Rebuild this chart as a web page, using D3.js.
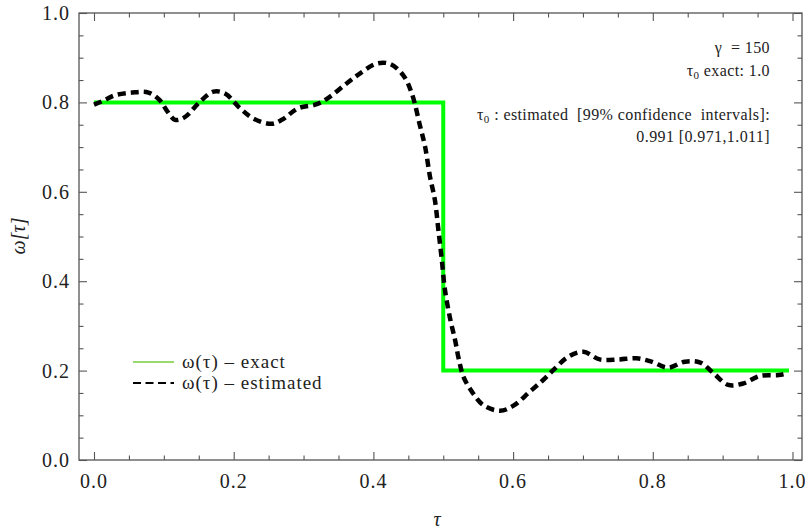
<!DOCTYPE html>
<html>
<head>
<meta charset="utf-8">
<script src="https://cdn.jsdelivr.net/npm/d3@7/dist/d3.min.js"></script>
<style>
  html, body { margin: 0; padding: 0; background: #fff; }
  svg { display: block; }
</style>
</head>
<body>
<svg id="chart" width="805" height="532" font-family="'Liberation Serif', 'DejaVu Serif', serif"></svg>
<script>
// ---- data ----
const exactTau   = [0, 0.5, 0.5, 0.995];
const exactOmega = [0.8, 0.8, 0.2, 0.2];

const estTau = [0, 0.015, 0.030, 0.054, 0.078, 0.094, 0.105, 0.116, 0.130, 0.152,
  0.171, 0.1875, 0.209, 0.228, 0.254, 0.269, 0.2925, 0.319, 0.338, 0.362,
  0.381, 0.405, 0.424, 0.443, 0.455, 0.467, 0.474, 0.481, 0.488, 0.493,
  0.498, 0.5025, 0.510, 0.517, 0.522, 0.529, 0.541, 0.557, 0.581, 0.600,
  0.624, 0.643, 0.660, 0.679, 0.7005, 0.724, 0.751, 0.777, 0.798, 0.822,
  0.846, 0.868, 0.887, 0.908, 0.930, 0.953, 0.980, 0.993];
const estOmega = [0.795, 0.805, 0.816, 0.822, 0.822, 0.805, 0.780, 0.761, 0.767, 0.802,
  0.824, 0.820, 0.787, 0.764, 0.752, 0.761, 0.787, 0.796, 0.813, 0.843,
  0.865, 0.887, 0.886, 0.860, 0.820, 0.746, 0.701, 0.634, 0.582, 0.515,
  0.447, 0.380, 0.315, 0.268, 0.2275, 0.186, 0.153, 0.123, 0.110, 0.121,
  0.153, 0.179, 0.205, 0.231, 0.242, 0.225, 0.225, 0.2275, 0.220, 0.2065,
  0.220, 0.218, 0.194, 0.168, 0.1715, 0.188, 0.190, 0.194];

const xTickLabels = ["0.0", "0.2", "0.4", "0.6", "0.8", "1.0"];
const yTickLabels = ["0.0", "0.2", "0.4", "0.6", "0.8", "1.0"];
const legendLabels = ["ω(τ) – exact", "ω(τ) – estimated"];

// ---- layout ----
const FONT = "'Liberation Serif', 'DejaVu Serif', serif";
const svg = d3.select("#chart");
const frame = { left: 79, right: 802, top: 13, bottom: 460 };
const x = d3.scaleLinear().domain([0, 1]).range([94, 792.5]);
const y = d3.scaleLinear().domain([0, 1]).range([460, 13]);
const axisColor = "#555";
const labelColor = "#222";

// frame
svg.append("rect")
  .attr("x", frame.left).attr("y", frame.top)
  .attr("width", frame.right - frame.left).attr("height", frame.bottom - frame.top)
  .attr("fill", "none").attr("stroke", axisColor).attr("stroke-width", 1.3);

const major = d3.range(0, 1.0001, 0.2);
const minor = d3.range(0, 1.0001, 0.05).filter(v => Math.abs(v * 5 - Math.round(v * 5)) > 1e-6);

function tickAxis(axisGen, transform, values, size) {
  const g = svg.append("g").attr("transform", transform)
    .call(axisGen.tickValues(values).tickSize(size).tickFormat(""));
  g.select(".domain").remove();
  g.selectAll(".tick line").attr("stroke", axisColor).attr("stroke-width", 1.1);
  return g;
}
tickAxis(d3.axisTop(x), `translate(0,${frame.bottom})`, major, 8);
tickAxis(d3.axisTop(x), `translate(0,${frame.bottom})`, minor, 4.5);
tickAxis(d3.axisBottom(x), `translate(0,${frame.top})`, major, 8);
tickAxis(d3.axisBottom(x), `translate(0,${frame.top})`, minor, 4.5);
tickAxis(d3.axisRight(y), `translate(${frame.left},0)`, major, 8);
tickAxis(d3.axisRight(y), `translate(${frame.left},0)`, minor, 4.5);
tickAxis(d3.axisLeft(y), `translate(${frame.right},0)`, major, 8);
tickAxis(d3.axisLeft(y), `translate(${frame.right},0)`, minor, 4.5);

// tick labels
svg.append("g").selectAll("text").data(major).join("text")
  .attr("font-family", FONT)
  .attr("x", d => x(d)).attr("y", 488).attr("letter-spacing", 1)
  .attr("text-anchor", "middle").attr("font-size", 20).attr("fill", labelColor)
  .text((d, i) => xTickLabels[i]);
svg.append("g").selectAll("text").data(major).join("text")
  .attr("font-family", FONT)
  .attr("x", 70).attr("y", d => y(d)).attr("dy", "0.35em").attr("letter-spacing", 1)
  .attr("text-anchor", "end").attr("font-size", 20).attr("fill", labelColor)
  .text((d, i) => yTickLabels[i]);

// axis titles
svg.append("text").attr("x", 437).attr("y", 526).attr("font-family", FONT)
  .attr("text-anchor", "middle").attr("font-size", 20).attr("font-style", "italic")
  .attr("fill", labelColor).text("τ");
svg.append("text").attr("transform", "translate(25,236) rotate(-90)").attr("font-family", FONT)
  .attr("text-anchor", "middle").attr("font-size", 20).attr("font-style", "italic")
  .attr("fill", labelColor).text("ω[τ]");

// clip
svg.append("clipPath").attr("id", "clip").append("rect")
  .attr("x", frame.left).attr("y", frame.top)
  .attr("width", frame.right - frame.left).attr("height", frame.bottom - frame.top);
const plot = svg.append("g").attr("clip-path", "url(#clip)");

// exact
const exactData = exactTau.map((t, i) => [t, exactOmega[i]]);
plot.append("path").datum(exactData)
  .attr("d", d3.line().x(d => x(d[0])).y(d => y(d[1])))
  .attr("fill", "none").attr("stroke", "#00ff00").attr("stroke-width", 4);

// estimated
const estData = estTau.map((t, i) => [t, estOmega[i]]);
plot.append("path").datum(estData)
  .attr("d", d3.line().curve(d3.curveCatmullRom.alpha(0.5)).x(d => x(d[0])).y(d => y(d[1])))
  .attr("fill", "none").attr("stroke", "#000").attr("stroke-width", 4.5)
  .attr("stroke-dasharray", "8,5");

// legend
const legend = svg.append("g");
const legY = [362, 383];
legend.append("line").attr("x1", 133).attr("x2", 174).attr("y1", legY[0]).attr("y2", legY[0])
  .attr("stroke", "#99d96e").attr("stroke-width", 2.2);
legend.append("line").attr("x1", 133).attr("x2", 174).attr("y1", legY[1]).attr("y2", legY[1])
  .attr("stroke", "#000").attr("stroke-width", 2.2).attr("stroke-dasharray", "8,4.5");
legend.selectAll("text").data(legendLabels).join("text")
  .attr("font-family", FONT).attr("letter-spacing", 1)
  .attr("x", 182).attr("y", (d, i) => legY[i]).attr("dy", "0.33em")
  .attr("font-size", 19).attr("fill", labelColor).text(d => d);

// annotations
const ann = svg.append("g").attr("font-family", FONT).attr("font-size", 16)
  .attr("letter-spacing", 0.4).attr("fill", labelColor).attr("text-anchor", "end");
ann.append("text").attr("x", 770).attr("y", 53).attr("xml:space", "preserve").text("γ  = 150");
const t2 = ann.append("text").attr("x", 770).attr("y", 76);
t2.append("tspan").text("τ");
t2.append("tspan").attr("font-size", 11).attr("dy", 3).text("0");
t2.append("tspan").attr("dy", -3).text(" exact: 1.0");
const t3 = ann.append("text").attr("x", 770).attr("y", 120).attr("xml:space", "preserve");
t3.append("tspan").text("τ");
t3.append("tspan").attr("font-size", 11).attr("dy", 3).text("0");
t3.append("tspan").attr("dy", -3).text(" : estimated  [99% confidence  intervals]:");
ann.append("text").attr("x", 770).attr("y", 142).text("0.991 [0.971,1.011]");
</script>
</body>
</html>
